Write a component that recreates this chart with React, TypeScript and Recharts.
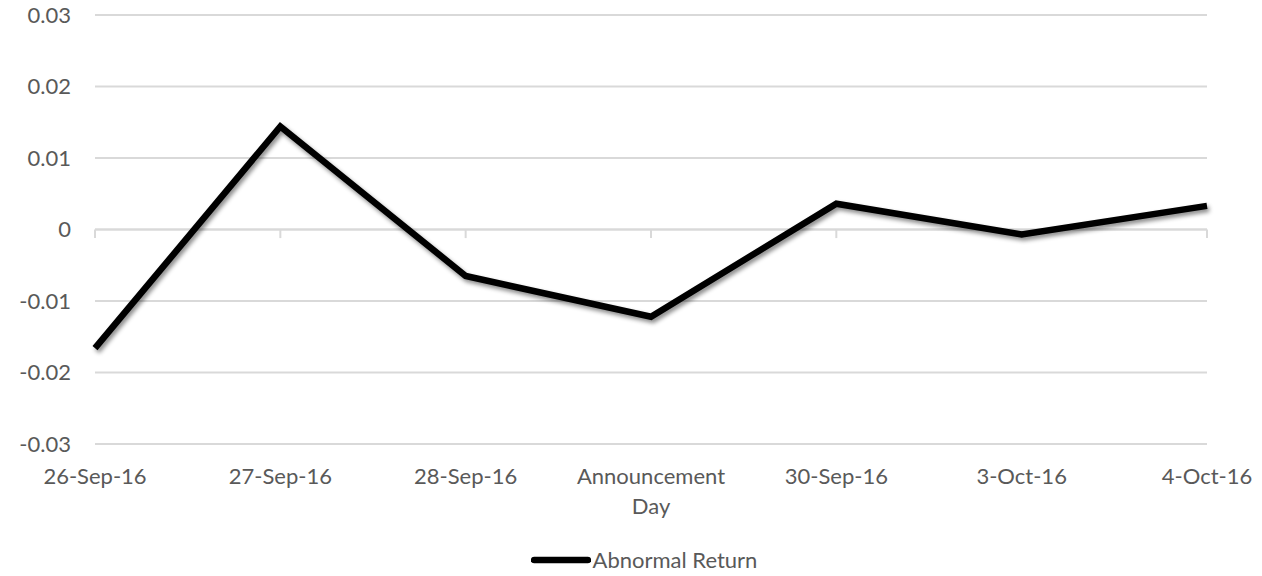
import { LineChart, Line, XAxis, YAxis, CartesianGrid, ReferenceLine, Legend } from "recharts";

const days = ["26-Sep-16", "27-Sep-16", "28-Sep-16", "Announcement Day", "30-Sep-16", "3-Oct-16", "4-Oct-16"];
const abnormalReturn = [-0.0166, 0.0144, -0.0065, -0.0122, 0.0036, -0.0007, 0.0033];
const yTicks = [-0.03, -0.02, -0.01, 0, 0.01, 0.02, 0.03];

const data = days.map((day, i) => ({ day, ret: abnormalReturn[i] }));

const FONT = "Lato, 'Open Sans', sans-serif";
const LABEL = "#595959";
const GRID = "#d9d9d9";
const FS = 22;

function DayTick({ x, y, payload }: any) {
  const words = String(payload.value).startsWith("Announcement")
    ? ["Announcement", "Day"]
    : [payload.value];
  return (
    <text x={x} y={y} textAnchor="middle" fill={LABEL} fontSize={FS} fontFamily={FONT}>
      {words.map((w: string, i: number) => (
        <tspan key={w} x={x} dy={i === 0 ? 32 : 30}>
          {w}
        </tspan>
      ))}
    </text>
  );
}

function LegendBox() {
  return (
    <div style={{ display: "flex", justifyContent: "center", alignItems: "center", fontFamily: FONT, fontSize: FS, color: LABEL }}>
      <svg width={60} height={8} style={{ marginRight: 2 }}>
        <line x1={3} y1={4} x2={57} y2={4} stroke="#000" strokeWidth={6.5} strokeLinecap="round" />
      </svg>
      <span>Abnormal Return</span>
    </div>
  );
}

export default function App() {
  return (
    <div style={{ position: "fixed", left: 0, top: 0, width: 1262, height: 576, background: "#fff" }}>
      <style>{`.ar-line .recharts-line-curve { filter: drop-shadow(2px 3px 2px rgba(0,0,0,0.45)); }`}</style>
      <LineChart width={1262} height={576} data={data} margin={{ top: 15, right: 55, bottom: 0, left: 0 }}>
        <CartesianGrid vertical={false} stroke={GRID} strokeWidth={2} />
        <XAxis
          dataKey="day"
          axisLine={false}
          tickLine={false}
          height={105}
          interval={0}
          tick={<DayTick />}
        />
        <YAxis
          domain={[-0.03, 0.03]}
          ticks={yTicks}
          width={95}
          axisLine={false}
          tickLine={false}
          tickSize={0}
          tickMargin={24}
          tickFormatter={(v: number) => String(Number(v.toFixed(2)))}
          tick={{ fill: LABEL, fontSize: FS, fontFamily: FONT }}
        />
        <ReferenceLine y={0} stroke={GRID} strokeWidth={2} />
        {days.map((d) => (
          <ReferenceLine
            key={d}
            segment={[{ x: d, y: 0 }, { x: d, y: -0.0012 }]}
            stroke={GRID}
            strokeWidth={2}
          />
        ))}
        <Line
          className="ar-line"
          type="linear"
          dataKey="ret"
          stroke="#000"
          strokeWidth={6.5}
          dot={false}
          isAnimationActive={false}
        />
        <Legend
          verticalAlign="bottom"
          content={<LegendBox />}
          wrapperStyle={{ bottom: 3, left: 0, width: 1262, paddingLeft: 26, boxSizing: "border-box" }}
        />
      </LineChart>
    </div>
  );
}
